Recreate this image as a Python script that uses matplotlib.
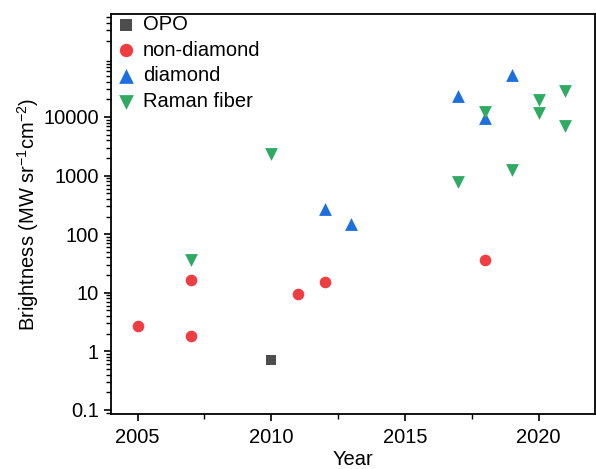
import numpy as np
import matplotlib
matplotlib.use("Agg")
import matplotlib.pyplot as plt
from matplotlib.ticker import FixedLocator, FixedFormatter, LogLocator, NullFormatter

plt.rcParams['font.family'] = ['Liberation Sans', 'DejaVu Sans']
plt.rcParams['mathtext.default'] = 'regular'

# data
opo_year = [2010]
opo_val = [0.70]

nondiamond_year = [2005, 2007, 2007, 2011, 2012, 2018]
nondiamond_val = [2.7, 16.5, 1.8, 9.6, 15.0, 36.5]

diamond_year = [2012, 2013, 2017, 2018, 2019]
diamond_val = [270, 150, 23000, 9500, 52000]

raman_year = [2007, 2010, 2017, 2018, 2019, 2020, 2020, 2021, 2021]
raman_val = [36.5, 2300, 770, 12000, 1230, 19600, 11500, 28000, 7100]

ytick_vals = [0.1, 1, 10, 100, 1000, 10000]
ytick_labels = ["0.1", "1", "10", "100", "1000", "10000"]
xtick_vals = [2005, 2010, 2015, 2020]

fig = plt.figure(figsize=(5.96, 4.69), dpi=100)
ax = fig.add_axes([0.186, 0.117, 0.812, 0.853])

ax.scatter(opo_year, opo_val, marker='s', s=55, color='#4d4d4d', lw=0, label='OPO', zorder=3)
ax.scatter(nondiamond_year, nondiamond_val, marker='o', s=70, color='#ef3e42', lw=0, label='non-diamond', zorder=3)
ax.scatter(diamond_year, diamond_val, marker='^', s=85, color='#1c6fdc', lw=0, label='diamond', zorder=3)
ax.scatter(raman_year, raman_val, marker='v', s=85, color='#2eaa62', lw=0, label='Raman fiber', zorder=3)

ax.set_yscale('log')
ax.set_xlim(2004.0, 2022.1)
ax.set_ylim(0.085, 5.7e5)

ax.yaxis.set_major_locator(FixedLocator(ytick_vals))
ax.yaxis.set_major_formatter(FixedFormatter(ytick_labels))
ax.yaxis.set_minor_locator(LogLocator(base=10, subs=np.arange(2, 10), numticks=20))
ax.yaxis.set_minor_formatter(NullFormatter())

ax.set_xticks(xtick_vals)
ax.set_xticks([2007.5, 2012.5, 2017.5], minor=True)

ax.tick_params(axis='both', which='major', direction='out', length=5, width=1.2, labelsize=14.5)
ax.tick_params(axis='both', which='minor', direction='out', length=3.5, width=1.0)
ax.tick_params(axis='x', pad=5)
for sp in ax.spines.values():
    sp.set_linewidth(1.3)

ax.set_xlabel('Year', fontsize=14.5, labelpad=2)
ax.set_ylabel('Brightness (MW sr$^{-1}$cm$^{-2}$)', fontsize=14.5, labelpad=2)

ax.legend(loc='upper left', bbox_to_anchor=(0.008, 1.0), frameon=False, fontsize=14.5,
          handletextpad=0.35, labelspacing=0.33, borderaxespad=0.0, handlelength=1.0,
          borderpad=0.05, markerscale=1.15)

fig.savefig('out.png', dpi=100)
